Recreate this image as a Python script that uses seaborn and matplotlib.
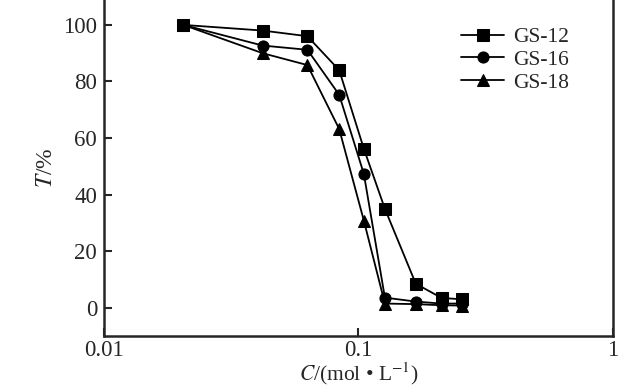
import numpy as np
import pandas as pd
import matplotlib
matplotlib.use("Agg")
import matplotlib.pyplot as plt
import seaborn as sns

conc = [0.0205, 0.042, 0.063, 0.084, 0.105, 0.127, 0.168, 0.212, 0.255]
gs12 = [100, 98, 96, 84, 56.2, 35, 8.5, 3.5, 3.0]
gs16 = [100, 92.7, 91.2, 75.3, 47.3, 3.6, 2.2, 1.5, 1.5]
gs18 = [100, 90, 85.8, 63.2, 30.8, 1.5, 1.3, 0.9, 0.8]
series_names = ["GS-12", "GS-16", "GS-18"]

df = pd.concat([
    pd.DataFrame({"C": conc, "T": vals, "series": name})
    for name, vals in zip(series_names, [gs12, gs16, gs18])
])

sns.set_style("ticks")
plt.rcParams["font.family"] = ["Liberation Serif", "DejaVu Serif"]
plt.rcParams["mathtext.fontset"] = "stix"

fig = plt.figure(figsize=(6.3, 3.89), dpi=100)
ax = fig.add_axes([0.165, 0.136, 0.808, 0.864])

sns.lineplot(data=df, x="C", y="T", hue="series", style="series",
             palette=["black"] * 3, markers={"GS-12": "s", "GS-16": "o", "GS-18": "^"},
             dashes=False, markersize=8, linewidth=1.3, markeredgecolor="black",
             ax=ax)

ax.set_xscale("log")
ax.set_xlim(0.01, 1)
ax.set_ylim(-10, 108.8)
ax.set_xticks([0.01, 0.1, 1])
ax.set_xticklabels(["0.01", "0.1", "1"])
ax.minorticks_off()
ax.set_yticks([0, 20, 40, 60, 80, 100])
ax.tick_params(axis="both", direction="in", length=6, width=1.5, labelsize=16.5, pad=5)
ax.tick_params(axis="x", pad=3)
for side in ["left", "bottom", "right"]:
    ax.spines[side].set_linewidth(1.8)
ax.spines["top"].set_visible(False)

ax.set_xlabel(r"$C$/(mol • L$^{-1}$)", fontsize=15.5, labelpad=-0.5)
ax.set_ylabel(r"$T$/%", fontsize=17, labelpad=4)

ax.legend(loc="upper left", bbox_to_anchor=(0.685, 0.945), frameon=False,
          fontsize=15.5, handlelength=2.0, labelspacing=0.13, handletextpad=0.4,
          borderaxespad=0)

fig.savefig("out.png", dpi=100)
